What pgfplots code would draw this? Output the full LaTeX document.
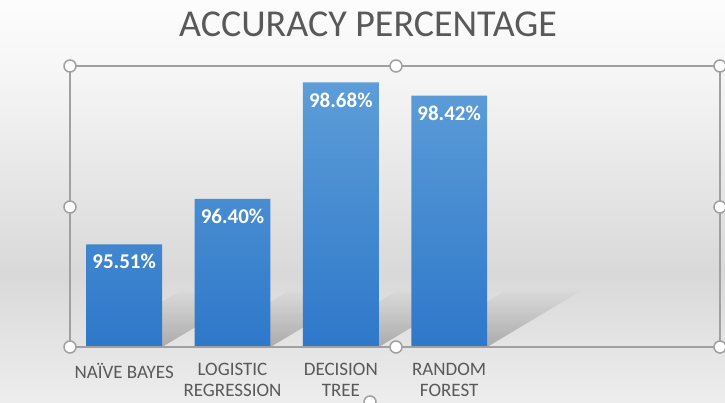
\documentclass[border=0pt]{standalone}
\usepackage{pgfplots}
\pgfplotsset{compat=1.18}
\usepackage{fontspec}
\setmainfont{Carlito}
\usetikzlibrary{fadings}
\definecolor{titlegray}{RGB}{89,89,89}
\definecolor{framegray}{RGB}{160,160,160}
\definecolor{bartop}{RGB}{93,157,216}
\definecolor{barbot}{RGB}{46,120,202}
\pgfdeclareverticalshading{bgshade}{100bp}{color(0bp)=(black!7); color(25bp)=(black!7); color(41bp)=(black!15); color(65bp)=(black!4); color(75bp)=(black!1); color(100bp)=(black!1)}
\begin{document}
\begin{tikzpicture}[x=1pt,y=1pt]
\shade[shading=bgshade] (0,0) rectangle (725,402);
\useasboundingbox (0,0) rectangle (725,402);
\node[anchor=base, text=titlegray, font=\fontsize{38}{42}\selectfont, inner sep=0pt] at (368,365) {ACCURACY PERCENTAGE};
\begin{axis}[
  at={(70pt,55pt)}, anchor=south west,
  scale only axis, width=650pt, height=281pt,
  xmin=-0.5, xmax=5.5, ymin=93.5, ymax=99,
  ybar, bar width=0.7,
  axis line style={draw=none},
  major tick length=0pt,
  ytick=\empty,
  xtick={0,1,2,3},
  xticklabels={NAÏVE BAYES, LOGISTIC\\REGRESSION, DECISION\\TREE, RANDOM\\FOREST},
  xticklabel style={align=center, text=titlegray, font=\fontsize{19}{20.5}\selectfont, anchor=north, inner sep=0pt, yshift=-16pt},
  /pgf/number format/assume math mode=true,
  nodes near coords={\pgfmathprintnumber[fixed, fixed zerofill, precision=2]{\pgfplotspointmeta}\%},
  every node near coord/.style={anchor=north, inner sep=0pt, yshift=-10pt, text=white, font=\bfseries\fontsize{21}{22}\selectfont},
  clip=false,
]
% shadows
\pgfplotsinvokeforeach{0,1,2,3}{
  \fill[black, opacity=0.25, path fading=north]
    (axis cs:#1-0.35,93.5) -- (axis cs:#1+0.35,93.5) -- (axis cs:#1+1.245,94.635) -- (axis cs:#1+0.545,94.635) -- cycle;
}
\addplot[draw=none, top color=bartop, bottom color=barbot] coordinates {(0,95.51) (1,96.40) (2,98.68) (3,98.42)};
\end{axis}
\draw[framegray, line width=1.5pt] (70,55) rectangle (720,336);
\foreach \p in {(70,336),(396,336),(720,336),(70,195),(720,195),(70,55),(396,55),(720,55),(370,0)}{
  \draw[framegray, fill=white, line width=1.5pt] \p circle (6);
}
\end{tikzpicture}
\end{document}
